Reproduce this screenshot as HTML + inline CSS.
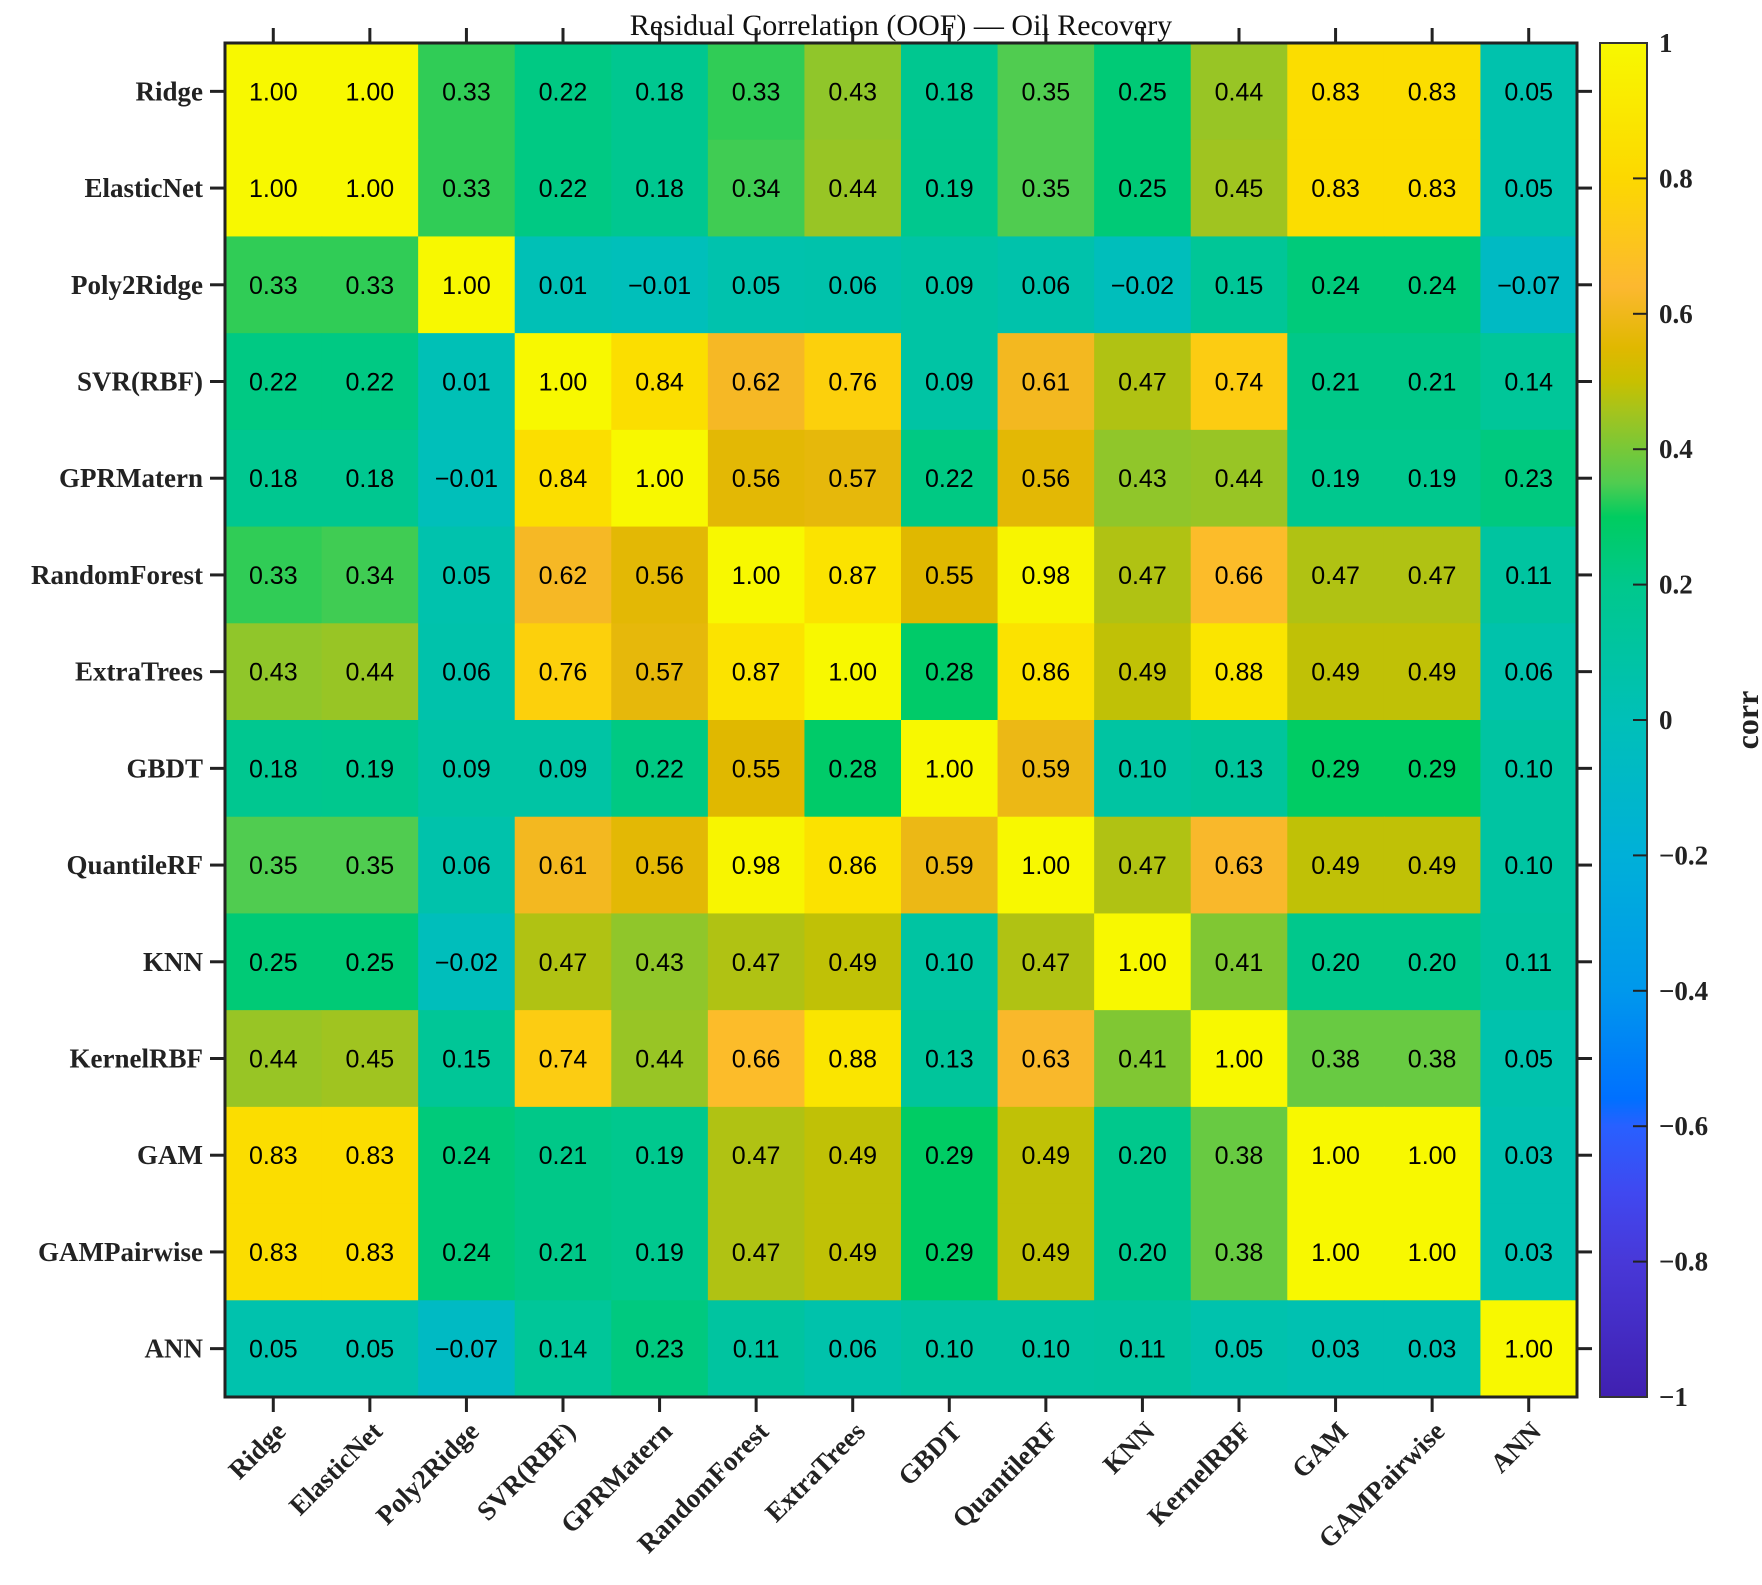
<!DOCTYPE html>
<html><head><meta charset="utf-8">
<style>
html,body{margin:0;padding:0;background:#fff;}
svg{display:block;}
.cell-text{font-family:"Liberation Sans",sans-serif;font-size:25px;fill:#000;}
.lab{font-family:"Liberation Serif",serif;font-weight:bold;font-size:27px;fill:#222;}
</style></head>
<body>
<svg id="chart" width="1762" height="1585" xmlns="http://www.w3.org/2000/svg">
<defs>
<linearGradient id="cbgrad" x1="0" y1="1" x2="0" y2="0">
<stop offset="0" stop-color="#4020b0"/>
<stop offset="0.1" stop-color="#4838d8"/>
<stop offset="0.15" stop-color="#4048f0"/>
<stop offset="0.2" stop-color="#2860ff"/>
<stop offset="0.22" stop-color="#0070ff"/>
<stop offset="0.3" stop-color="#0098ec"/>
<stop offset="0.4" stop-color="#00b0d8"/>
<stop offset="0.5" stop-color="#00c0b8"/>
<stop offset="0.6" stop-color="#00c88c"/>
<stop offset="0.65" stop-color="#00cc60"/>
<stop offset="0.675" stop-color="#50cc50"/>
<stop offset="0.725" stop-color="#a0c420"/>
<stop offset="0.75" stop-color="#c8c000"/>
<stop offset="0.775" stop-color="#e0b800"/>
<stop offset="0.82" stop-color="#fcb830"/>
<stop offset="0.9" stop-color="#fcd800"/>
<stop offset="1" stop-color="#f8f800"/>
</linearGradient>
</defs>
<g id="cells"></g>
<g id="axes"></g>
</svg>
<script>
const labels = ["Ridge","ElasticNet","Poly2Ridge","SVR(RBF)","GPRMatern","RandomForest","ExtraTrees","GBDT","QuantileRF","KNN","KernelRBF","GAM","GAMPairwise","ANN"];
const row0 = [1.00,1.00,0.33,0.22,0.18,0.33,0.43,0.18,0.35,0.25,0.44,0.83,0.83,0.05];
const row1 = [1.00,1.00,0.33,0.22,0.18,0.34,0.44,0.19,0.35,0.25,0.45,0.83,0.83,0.05];
const row2 = [0.33,0.33,1.00,0.01,-0.01,0.05,0.06,0.09,0.06,-0.02,0.15,0.24,0.24,-0.07];
const row3 = [0.22,0.22,0.01,1.00,0.84,0.62,0.76,0.09,0.61,0.47,0.74,0.21,0.21,0.14];
const row4 = [0.18,0.18,-0.01,0.84,1.00,0.56,0.57,0.22,0.56,0.43,0.44,0.19,0.19,0.23];
const row5 = [0.33,0.34,0.05,0.62,0.56,1.00,0.87,0.55,0.98,0.47,0.66,0.47,0.47,0.11];
const row6 = [0.43,0.44,0.06,0.76,0.57,0.87,1.00,0.28,0.86,0.49,0.88,0.49,0.49,0.06];
const row7 = [0.18,0.19,0.09,0.09,0.22,0.55,0.28,1.00,0.59,0.10,0.13,0.29,0.29,0.10];
const row8 = [0.35,0.35,0.06,0.61,0.56,0.98,0.86,0.59,1.00,0.47,0.63,0.49,0.49,0.10];
const row9 = [0.25,0.25,-0.02,0.47,0.43,0.47,0.49,0.10,0.47,1.00,0.41,0.20,0.20,0.11];
const row10 = [0.44,0.45,0.15,0.74,0.44,0.66,0.88,0.13,0.63,0.41,1.00,0.38,0.38,0.05];
const row11 = [0.83,0.83,0.24,0.21,0.19,0.47,0.49,0.29,0.49,0.20,0.38,1.00,1.00,0.03];
const row12 = [0.83,0.83,0.24,0.21,0.19,0.47,0.49,0.29,0.49,0.20,0.38,1.00,1.00,0.03];
const row13 = [0.05,0.05,-0.07,0.14,0.23,0.11,0.06,0.10,0.10,0.11,0.05,0.03,0.03,1.00];
const matrix = [row0,row1,row2,row3,row4,row5,row6,row7,row8,row9,row10,row11,row12,row13];
const cbTicks = [1,0.8,0.6,0.4,0.2,0,-0.2,-0.4,-0.6,-0.8,-1];
const cbTickText = ["1","0.8","0.6","0.4","0.2","0","\u22120.2","\u22120.4","\u22120.6","\u22120.8","\u22121"];

const NS="http://www.w3.org/2000/svg";
const PL=225, PR=1577, PT=43, PB=1397;
const n=labels.length, cw=(PR-PL)/n, ch=(PB-PT)/n;
const xs=i=>PL+i*cw, ys=j=>PT+j*ch;
const CBX=1600, CBW=47;
const cbY=v=>PT+(1-v)/2*(PB-PT);

const stops=[[-1,[64,32,176]],[-0.8,[72,56,216]],[-0.7,[64,72,240]],[-0.6,[40,96,255]],[-0.56,[0,112,255]],[-0.4,[0,152,236]],[-0.2,[0,176,216]],[0,[0,192,184]],[0.2,[0,200,140]],[0.3,[0,204,96]],[0.35,[80,204,80]],[0.45,[160,196,32]],[0.5,[200,192,0]],[0.55,[224,184,0]],[0.64,[252,184,48]],[0.8,[252,216,0]],[1,[248,248,0]]];
function color(v){
  for(let k=0;k<stops.length-1;k++){
    const [a,ca]=stops[k],[b,cb]=stops[k+1];
    if(v<=b){const t=(v-a)/(b-a);return `rgb(${ca.map((c,i)=>Math.round(c+(cb[i]-c)*t)).join(',')})`;}
  }
  return 'rgb(248,248,0)';
}
function mk(tag,attrs,parent,text){
  const e=document.createElementNS(NS,tag);
  for(const k in attrs)e.setAttribute(k,attrs[k]);
  if(text!==undefined)e.textContent=text;
  parent.appendChild(e);return e;
}
const svg=document.getElementById('chart');
const cells=document.getElementById('cells'), axes=document.getElementById('axes');
const fmt=v=>(v<0?'\u2212':'')+Math.abs(v).toFixed(2);

matrix.forEach((row,j)=>row.forEach((v,i)=>{
  const r=mk('rect',{x:xs(i),y:ys(j),width:cw+0.6,height:ch+0.6,fill:color(v)},cells);
  
  
  const t=mk('text',{x:xs(i)+cw/2,y:ys(j)+ch/2+9,'text-anchor':'middle',class:'cell-text'},cells,fmt(v));
  
  
}));

const frame=mk('rect',{x:PL,y:PT,width:PR-PL,height:PB-PT,fill:'none',stroke:'#222','stroke-width':3},axes);



labels.forEach((l,i)=>{
  const cx=xs(i)+cw/2, cy=ys(i)+ch/2;
  mk('line',{x1:cx,y1:PB,x2:cx,y2:PB+15,stroke:'#222','stroke-width':3},axes);
  mk('line',{x1:cx,y1:PT,x2:cx,y2:PT-15,stroke:'#222','stroke-width':3},axes);
  mk('line',{x1:PL,y1:cy,x2:PL-15,y2:cy,stroke:'#222','stroke-width':3},axes);
  mk('line',{x1:PR,y1:cy,x2:PR+15,y2:cy,stroke:'#222','stroke-width':3},axes);
  const yl=mk('text',{x:PL-22,y:cy+9,'text-anchor':'end',class:'lab'},axes,l);
  
  
  const xl=mk('text',{x:cx+14,y:PB+36,'text-anchor':'end',class:'lab',transform:`rotate(-45 ${cx+14} ${PB+36})`},axes,l);
  
  
});

const title=mk('text',{x:(PL+PR)/2,y:35,'text-anchor':'middle','font-family':'"Liberation Serif",serif','font-size':30,fill:'#111'},axes,'Residual Correlation (OOF) \u2014 Oil Recovery');



const cb=mk('rect',{x:CBX,y:PT,width:CBW,height:PB-PT,fill:'url(#cbgrad)',stroke:'#333','stroke-width':2},axes);


cbTicks.forEach((v,k)=>{
  const y=cbY(v);
  if(v!==1&&v!==-1)mk('line',{x1:CBX+CBW-14,y1:y,x2:CBX+CBW,y2:y,stroke:'#222','stroke-width':2},axes);
  const t=mk('text',{x:CBX+CBW+12,y:y+9,class:'lab'},axes,cbTickText[k]);
  
  
});
const cl=mk('text',{x:1758,y:(PT+PB)/2,'text-anchor':'middle',class:'lab',transform:`rotate(-90 1758 ${(PT+PB)/2})`,style:'font-size:32px'},axes,'corr');


</script>
</body></html>
